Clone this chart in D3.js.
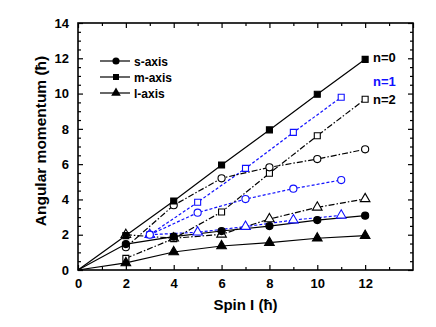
<!DOCTYPE html>
<html>
<head>
<meta charset="utf-8">
<script src="https://cdn.jsdelivr.net/npm/d3@7"></script>
<style>
  body { margin: 0; background: #fff; }
  text { font-family: "Liberation Sans", Arial, sans-serif; font-weight: bold; }
</style>
</head>
<body>
<svg width="436" height="327"></svg>
<script>
// spin values
const spinN0 = [0, 2, 4, 6, 8, 10, 12];
const spinN1 = [3, 5, 7, 9, 11];
const spinN2 = [2, 4, 6, 8, 10, 12];

// angular momentum, n=0 (solid)
const sAxisN0 = [0, 1.47, 1.89, 2.21, 2.49, 2.83, 3.08];
const mAxisN0 = [0, 1.95, 3.91, 5.95, 7.94, 9.96, 11.94];
const lAxisN0 = [0, 0.40, 1.02, 1.36, 1.55, 1.80, 1.95];

// n=1 (blue dashed)
const sAxisN1 = [2.0, 3.25, 4.02, 4.61, 5.10];
const mAxisN1 = [2.0, 3.84, 5.76, 7.80, 9.79];
const lAxisN1 = [2.0, 2.14, 2.46, 2.83, 3.10];

// n=2 (dash-dot)
const sAxisN2 = [1.29, 3.67, 5.20, 5.82, 6.29, 6.84];
const mAxisN2 = [0.66, 1.78, 3.29, 5.48, 7.61, 9.68];
const lAxisN2 = [2.0, 1.80, 2.02, 2.89, 3.55, 4.03];

const xTicks = [0, 2, 4, 6, 8, 10, 12];
const yTicks = [0, 2, 4, 6, 8, 10, 12, 14];
const legendNames = ['s-axis', 'm-axis', 'l-axis'];

const svg = d3.select('svg');
const margin = { top: 23, right: 23, bottom: 57, left: 78 };
const width = 436, height = 327;

const x = d3.scaleLinear().domain([0, 14]).range([margin.left, width - margin.right]);
const y = d3.scaleLinear().domain([0, 14]).range([height - margin.bottom, margin.top]);

const blue = '#1010ff';

const groups = [
  { xs: spinN0, ys: sAxisN0, shape: 'circle', fill: true, color: '#000', dash: null },
  { xs: spinN0, ys: mAxisN0, shape: 'square', fill: true, color: '#000', dash: null },
  { xs: spinN0, ys: lAxisN0, shape: 'triangle', fill: true, color: '#000', dash: null },
  { xs: spinN1, ys: sAxisN1, shape: 'circle', fill: false, color: blue, dash: '3,2' },
  { xs: spinN1, ys: mAxisN1, shape: 'square', fill: false, color: blue, dash: '3,2' },
  { xs: spinN1, ys: lAxisN1, shape: 'triangle', fill: false, color: blue, dash: '3,2' },
  { xs: spinN2, ys: sAxisN2, shape: 'circle', fill: false, color: '#000', dash: '6,2,1.5,2' },
  { xs: spinN2, ys: mAxisN2, shape: 'square', fill: false, color: '#000', dash: '6,2,1.5,2' },
  { xs: spinN2, ys: lAxisN2, shape: 'triangle', fill: false, color: '#000', dash: '6,2,1.5,2' }
];

const symbolType = { circle: d3.symbolCircle, square: d3.symbolSquare, triangle: d3.symbolTriangle };
const symbolSize = { circle: 40, square: 36, triangle: 40 };

const line = d3.line().x(d => x(d[0])).y(d => y(d[1]));

// lines
groups.forEach(g => {
  const pts = g.xs.map((v, i) => [v, g.ys[i]]);
  svg.append('path')
    .attr('d', line(pts))
    .attr('fill', 'none')
    .attr('stroke', g.color)
    .attr('stroke-width', 1.2)
    .attr('stroke-dasharray', g.dash);
});

// markers (draw open ones first, filled on top)
groups.slice().reverse().forEach(g => {
  const pts = g.xs.map((v, i) => [v, g.ys[i]]).filter(d => d[0] > 0);
  svg.append('g').selectAll('path').data(pts)
    .enter().append('path')
    .attr('transform', d => `translate(${x(d[0])},${y(d[1])})`)
    .attr('d', d3.symbol().type(symbolType[g.shape]).size(symbolSize[g.shape]))
    .attr('fill', g.fill ? g.color : '#fff')
    .attr('stroke', g.color)
    .attr('stroke-width', 1.1);
});

// axes with inward ticks
const x0 = margin.left, x1 = width - margin.right;
const y0 = height - margin.bottom, y1 = margin.top;
const xMinor = d3.range(1, 14, 2);
const yMinor = d3.range(0.5, 14, 0.5).filter(v => v % 2 !== 0);

const fmt = d3.format('d');
svg.append('g').attr('transform', `translate(0,${y0})`)
  .call(d3.axisBottom(x).tickValues(xTicks).tickSizeInner(-5).tickSizeOuter(0).tickPadding(9).tickFormat(fmt));
svg.append('g').attr('transform', `translate(0,${y0})`)
  .call(d3.axisBottom(x).tickValues(xMinor).tickSizeInner(-3).tickSizeOuter(0).tickFormat(''));
svg.append('g').attr('transform', `translate(0,${y1})`)
  .call(d3.axisTop(x).tickValues(xTicks.concat([14])).tickSizeInner(-5).tickSizeOuter(0).tickFormat(''));
svg.append('g').attr('transform', `translate(0,${y1})`)
  .call(d3.axisTop(x).tickValues(xMinor).tickSizeInner(-3).tickSizeOuter(0).tickFormat(''));

svg.append('g').attr('transform', `translate(${x0},0)`)
  .call(d3.axisLeft(y).tickValues(yTicks).tickSizeInner(-5).tickSizeOuter(0).tickPadding(9).tickFormat(fmt));
svg.append('g').attr('transform', `translate(${x0},0)`)
  .call(d3.axisLeft(y).tickValues(yMinor).tickSizeInner(-3).tickSizeOuter(0).tickFormat(''));
svg.append('g').attr('transform', `translate(${x1},0)`)
  .call(d3.axisRight(y).tickValues(yTicks).tickSizeInner(-5).tickSizeOuter(0).tickFormat(''));
svg.append('g').attr('transform', `translate(${x1},0)`)
  .call(d3.axisRight(y).tickValues(yMinor).tickSizeInner(-3).tickSizeOuter(0).tickFormat(''));

svg.selectAll('.domain').remove();
svg.selectAll('.tick line').attr('stroke', '#000').attr('stroke-width', 1.2);
svg.selectAll('.tick text')
  .attr('font-size', 13).attr('fill', '#000')
  .style('font-family', '"Liberation Sans", Arial, sans-serif').style('font-weight', 'bold');

svg.append('rect')
  .attr('x', x0).attr('y', y1).attr('width', x1 - x0).attr('height', y0 - y1)
  .attr('fill', 'none').attr('stroke', '#000').attr('stroke-width', 1.6);

// axis titles
svg.append('text')
  .attr('x', (x0 + x1) / 2).attr('y', 310)
  .attr('text-anchor', 'middle').attr('font-size', 15)
  .text('Spin I (ħ)');
svg.append('text')
  .attr('transform', `translate(46,141) rotate(-90)`)
  .attr('text-anchor', 'middle').attr('font-size', 15.5)
  .text('Angular momentum (ħ)');

// legend
const legend = svg.append('g');
legendNames.forEach((name, i) => {
  const ly = 61 + i * 16;
  const g = groups[i];
  legend.append('line').attr('x1', 100).attr('x2', 130).attr('y1', ly).attr('y2', ly)
    .attr('stroke', '#000').attr('stroke-width', 1.2);
  legend.append('path').attr('transform', `translate(116,${ly})`)
    .attr('d', d3.symbol().type(symbolType[g.shape]).size(symbolSize[g.shape]))
    .attr('fill', '#000');
  legend.append('text').attr('x', 134).attr('y', ly + 4.5).attr('font-size', 12).text(name);
});

// series labels
svg.append('text').attr('x', 373).attr('y', 62).attr('font-size', 13).text('n=0');
svg.append('text').attr('x', 373).attr('y', 86).attr('font-size', 13).attr('fill', blue).text('n=1');
svg.append('text').attr('x', 373).attr('y', 104).attr('font-size', 13).text('n=2');
</script>
</body>
</html>
